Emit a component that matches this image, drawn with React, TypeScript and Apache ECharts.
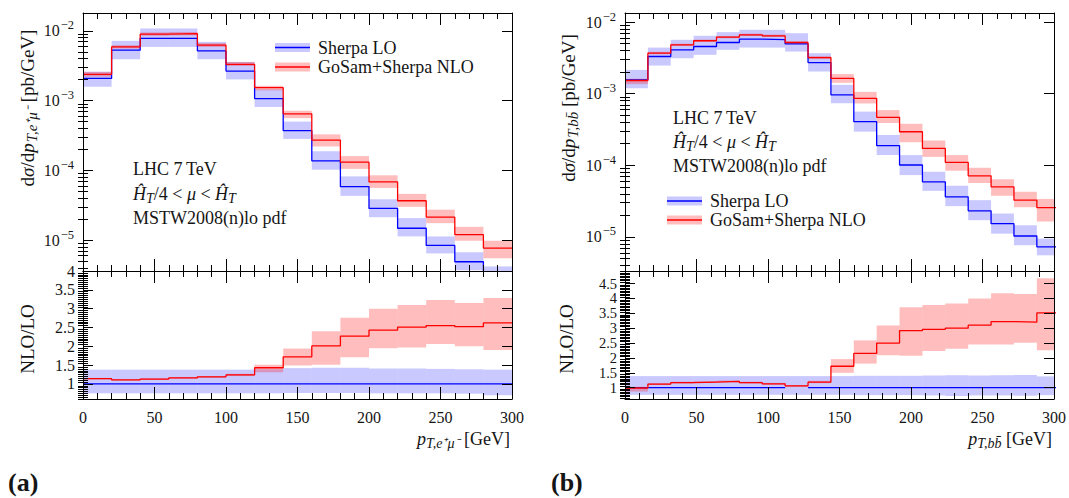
import React, { useEffect, useRef } from "react";
import * as echarts from "echarts";

/* ================= DATA: panel (a)  p_T(e+ mu-) ================= */
const edgesA = [0, 20, 40, 60, 80, 100, 120, 140, 160, 180, 200, 220, 240, 260, 280, 300];
const loA = [2.08e-3, 5.27e-3, 7.77e-3, 7.77e-3, 5.15e-3, 2.65e-3, 1.07e-3, 3.7e-4, 1.37e-4, 5.85e-5, 2.85e-5, 1.48e-5, 8.4e-6, 4.9e-6, 3.0e-6];
const loLowA = [1.58e-3, 3.91e-3, 5.88e-3, 5.88e-3, 3.91e-3, 2.01e-3, 8.1e-4, 2.82e-4, 1.02e-4, 4.3e-5, 2.13e-5, 1.13e-5, 6.45e-6, 3.7e-6, 2.3e-6];
const loHighA = [2.6e-3, 7.18e-3, 1.08e-2, 1.08e-2, 6.94e-3, 3.58e-3, 1.45e-3, 5.0e-4, 1.88e-4, 8.2e-5, 3.85e-5, 2.07e-5, 1.13e-5, 6.7e-6, 4.2e-6];
const nloA = [2.38e-3, 5.88e-3, 8.96e-3, 9.1e-3, 6.22e-3, 3.31e-3, 1.53e-3, 6.46e-4, 2.72e-4, 1.31e-4, 6.83e-5, 3.67e-5, 2.14e-5, 1.2e-5, 7.7e-6];
const nloLowA = [2.2e-3, 5.58e-3, 8.47e-3, 8.6e-3, 5.88e-3, 3.13e-3, 1.4e-3, 5.6e-4, 2.2e-4, 1.05e-4, 5.6e-5, 3.0e-5, 1.75e-5, 9.8e-6, 5.5e-6];
const nloHighA = [2.57e-3, 6.22e-3, 9.48e-3, 9.6e-3, 6.65e-3, 3.58e-3, 1.63e-3, 7.15e-4, 3.28e-4, 1.6e-4, 8.5e-5, 4.6e-5, 2.73e-5, 1.55e-5, 9.8e-6];
const ratioLoA = [1, 1, 1, 1, 1, 1, 1, 1, 1, 1, 1, 1, 1, 1, 1];
const ratioLoLowA = [0.75, 0.75, 0.75, 0.75, 0.75, 0.75, 0.75, 0.76, 0.76, 0.76, 0.75, 0.75, 0.75, 0.74, 0.7];
const ratioLoHighA = [1.38, 1.38, 1.38, 1.38, 1.38, 1.38, 1.39, 1.42, 1.43, 1.43, 1.41, 1.41, 1.4, 1.39, 1.38];
const ratioNloA = [1.14, 1.11, 1.13, 1.16, 1.19, 1.24, 1.43, 1.72, 2.01, 2.27, 2.43, 2.51, 2.55, 2.52, 2.62];
const ratioNloLowA = [1.12, 1.09, 1.11, 1.14, 1.17, 1.21, 1.31, 1.49, 1.51, 1.71, 1.95, 1.97, 2.06, 2.0, 1.9];
const ratioNloHighA = [1.16, 1.13, 1.15, 1.18, 1.21, 1.27, 1.51, 1.94, 2.4, 2.76, 3.0, 3.1, 3.23, 3.15, 3.28];

/* ================= DATA: panel (b)  p_T(b b-bar) ================= */
const edgesB = [0, 16, 32, 48, 64, 80, 96, 112, 128, 144, 160, 176, 192, 208, 224, 240, 256, 272, 288, 304];
const loB = [1.56e-3, 3.31e-3, 4.1e-3, 4.56e-3, 5.19e-3, 5.78e-3, 5.7e-3, 4.95e-3, 2.72e-3, 9.6e-4, 4.07e-4, 1.88e-4, 1.01e-4, 5.88e-5, 3.63e-5, 2.31e-5, 1.53e-5, 1.03e-5, 7.24e-6];
const loLowB = [1.19e-3, 2.47e-3, 3.13e-3, 3.49e-3, 4.1e-3, 4.41e-3, 4.4e-3, 3.88e-3, 2.04e-3, 7.35e-4, 2.95e-4, 1.39e-4, 7.3e-5, 4.4e-5, 2.69e-5, 1.71e-5, 1.11e-5, 7.64e-6, 5.53e-6];
const loHighB = [2.15e-3, 4.41e-3, 5.66e-3, 6.44e-3, 7.24e-3, 7.81e-3, 7.8e-3, 7.0e-3, 3.68e-3, 1.33e-3, 5.62e-4, 2.65e-4, 1.39e-4, 8.13e-5, 5.18e-5, 3.26e-5, 2.12e-5, 1.46e-5, 9.46e-6];
const nloB = [1.53e-3, 3.68e-3, 4.82e-3, 5.49e-3, 6.17e-3, 6.65e-3, 6.44e-3, 5.19e-3, 3.2e-3, 1.64e-3, 8.63e-4, 4.68e-4, 2.94e-4, 1.72e-4, 1.1e-4, 7.13e-5, 5.01e-5, 3.26e-5, 2.57e-5];
const nloLowB = [1.36e-3, 3.55e-3, 4.65e-3, 5.3e-3, 5.95e-3, 6.4e-3, 6.2e-3, 5.0e-3, 3.05e-3, 1.42e-3, 7.3e-4, 3.9e-4, 2.1e-4, 1.31e-4, 8.4e-5, 5.66e-5, 3.75e-5, 2.59e-5, 1.64e-5];
const nloHighB = [1.62e-3, 3.85e-3, 5.0e-3, 5.7e-3, 6.4e-3, 6.9e-3, 6.7e-3, 5.4e-3, 3.35e-3, 1.88e-3, 1.06e-3, 5.9e-4, 3.8e-4, 2.22e-4, 1.39e-4, 9.24e-5, 6.38e-5, 4.27e-5, 3.39e-5];
const ratioLoB = [1, 1, 1, 1, 1, 1, 1, null, 1, 1, 1, 1, 1, 1, 1, 1, 1, 1, 1];
const ratioLoLowB = [0.76, 0.76, 0.76, 0.76, 0.76, 0.76, 0.76, 0.76, 0.76, 0.76, 0.75, 0.75, 0.75, 0.74, 0.72, 0.74, 0.74, 0.73, 0.75];
const ratioLoHighB = [1.39, 1.39, 1.39, 1.39, 1.39, 1.39, 1.39, 1.39, 1.39, 1.39, 1.4, 1.4, 1.4, 1.41, 1.42, 1.41, 1.42, 1.43, 1.38];
const ratioNloB = [0.99, 1.12, 1.17, 1.19, 1.21, 1.17, 1.13, 1.06, 1.19, 1.72, 2.15, 2.5, 2.92, 2.96, 3.0, 3.1, 3.22, 3.2, 3.51];
const ratioNloLowB = [0.87, 1.09, 1.14, 1.16, 1.18, 1.14, 1.1, 1.03, 1.15, 1.5, 1.81, 2.09, 2.07, 2.23, 2.31, 2.45, 2.45, 2.51, 2.26];
const ratioNloHighB = [1.03, 1.15, 1.2, 1.22, 1.24, 1.2, 1.16, 1.09, 1.23, 1.96, 2.59, 3.09, 3.7, 3.78, 3.83, 4.0, 4.17, 4.15, 4.68];

/* ================= AXES ================= */
const xRange = [0, 300];
const xInterval = 50;
const logMajorTicks = [1e-5, 1e-4, 1e-3, 1e-2];
const logRangeA = [3.61e-6, 1.8e-2];
const logRangeB = [3.34e-6, 1.34e-2];
const ratioRangeA = [0.6, 4];
const ratioRangeB = [0.62, 4.92];
const ratioTicksA = [1, 1.5, 2, 2.5, 3, 3.5, 4];
const ratioTicksB = [1, 1.5, 2, 2.5, 3, 3.5, 4, 4.5];

const legendNames = ["Sherpa LO", "GoSam+Sherpa NLO"];

/* ================= STYLE ================= */
const FONT = "'Liberation Serif', 'Times New Roman', serif";
const INK = "#151515";
const BLUE = "#0000ff";
const RED = "#ff0000";
const BLUE_BAND = "rgba(0,0,255,0.21)";
const RED_BAND = "rgba(255,0,0,0.26)";

const TOP_Y = 13;
const TOP_H = 258;
const RATIO_H = 128;
const PLOT_W = 429;
const TICK_FONT = 16;

function logMinorTicks(range: number[]) {
  const out: number[] = [];
  for (let e = -7; e <= 0; e++) {
    for (let k = 2; k <= 9; k++) {
      const v = Number((k * Math.pow(10, e)).toPrecision(6));
      if (v > range[0] && v < range[1]) out.push(v);
    }
  }
  return out;
}
function ratioMinorTicks(range: number[]) {
  const out: number[] = [];
  for (let k = Math.ceil(range[0] * 20); k <= Math.floor(range[1] * 20); k++) {
    if (k % 10 !== 0) out.push(k / 20);
  }
  return out;
}

function bandItems(edges: number[], low: number[], high: number[]) {
  return low.map((l, i) => [edges[i], edges[i + 1], l, high[i]]);
}
function histLine(edges: number[], vals: (number | null)[]) {
  const d: any[] = [];
  vals.forEach((v, i) => {
    if (v === null) {
      d.push([edges[i], null]);
    } else {
      d.push([edges[i], v]);
      d.push([edges[i + 1], v]);
    }
  });
  return d;
}

function bandSeries(xi: number, yi: number, data: number[][], color: string, z: number) {
  return {
    type: "custom",
    xAxisIndex: xi,
    yAxisIndex: yi,
    data,
    z,
    silent: true,
    encode: { x: [0, 1], y: [2, 3] },
    renderItem: (params: any, api: any) => {
      const p0 = api.coord([api.value(0), api.value(3)]);
      const p1 = api.coord([api.value(1), api.value(2)]);
      const cs = params.coordSys;
      const rect = echarts.graphic.clipRectByRect(
        { x: p0[0], y: p0[1], width: p1[0] - p0[0], height: p1[1] - p0[1] },
        { x: cs.x, y: cs.y, width: cs.width, height: cs.height }
      );
      if (!rect) return null;
      return { type: "rect", shape: rect, style: { fill: color } };
    },
  };
}
function lineSeries(xi: number, yi: number, data: any[], color: string, z: number) {
  return {
    type: "line",
    xAxisIndex: xi,
    yAxisIndex: yi,
    data,
    z,
    silent: true,
    symbol: "none",
    showSymbol: false,
    connectNulls: false,
    clip: true,
    lineStyle: { color, width: 1.3 },
  };
}

const tickLine = { color: "#000", width: 1 };

function xAxisDef(g: number, pos: string, labels: boolean) {
  return {
    type: "value",
    gridIndex: g,
    position: pos,
    min: xRange[0],
    max: xRange[1],
    interval: xInterval,
    z: 10,
    axisLine: { show: true, onZero: false, lineStyle: tickLine },
    axisTick: { show: true, inside: true, length: 12, lineStyle: tickLine },
    minorTick: { show: true, splitNumber: 5, length: 6, lineStyle: tickLine },
    splitLine: { show: false },
    minorSplitLine: { show: false },
    axisLabel: { show: labels, margin: 10, fontSize: TICK_FONT, color: INK, fontFamily: FONT },
  };
}
function yLogDef(g: number, pos: string, range: number[], labels: boolean) {
  return {
    type: "log",
    logBase: 10,
    gridIndex: g,
    position: pos,
    min: range[0],
    max: range[1],
    z: 10,
    axisLine: { show: true, onZero: false, lineStyle: tickLine },
    axisTick: { show: true, inside: true, length: 10, customValues: logMajorTicks, lineStyle: tickLine },
    minorTick: { show: false },
    splitLine: { show: false },
    axisLabel: {
      show: labels,
      customValues: logMajorTicks,
      margin: 9,
      formatter: (v: number) => "{b|10}{s|\u2212" + Math.round(-Math.log10(v)) + "}",
      rich: {
        b: { fontSize: TICK_FONT, fontFamily: FONT, color: INK },
        s: { fontSize: 12.5, fontFamily: FONT, color: INK, padding: [0, 0, 11, 1] },
      },
    },
  };
}
function yLogMinorDef(g: number, pos: string, range: number[]) {
  return {
    type: "log",
    logBase: 10,
    gridIndex: g,
    position: pos,
    min: range[0],
    max: range[1],
    z: 10,
    axisLine: { show: false },
    axisTick: { show: true, inside: true, length: 5, customValues: logMinorTicks(range), lineStyle: tickLine },
    minorTick: { show: false },
    splitLine: { show: false },
    axisLabel: { show: false },
  };
}
function yRatioDef(g: number, pos: string, range: number[], ticks: number[], labels: boolean, fontSize: number) {
  return {
    type: "value",
    gridIndex: g,
    position: pos,
    min: range[0],
    max: range[1],
    z: 10,
    axisLine: { show: true, onZero: false, lineStyle: tickLine },
    axisTick: { show: true, inside: true, length: 10, customValues: ticks, lineStyle: tickLine },
    minorTick: { show: false },
    splitLine: { show: false },
    axisLabel: {
      show: labels,
      customValues: ticks,
      margin: 8,
      fontSize,
      lineHeight: fontSize - 1,
      color: INK,
      fontFamily: FONT,
      showMinLabel: true,
      showMaxLabel: true,
      hideOverlap: false,
    },
  };
}
function yRatioMinorDef(g: number, pos: string, range: number[]) {
  return {
    type: "value",
    gridIndex: g,
    position: pos,
    min: range[0],
    max: range[1],
    z: 10,
    axisLine: { show: false },
    axisTick: { show: true, inside: true, length: 5, customValues: ratioMinorTicks(range), lineStyle: tickLine },
    minorTick: { show: false },
    splitLine: { show: false },
    axisLabel: { show: false },
  };
}

const rich = {
  n: { fontFamily: FONT, fontSize: 18, fill: INK, color: INK },
  i: { fontFamily: FONT, fontSize: 18, fontStyle: "italic", fill: INK, color: INK },
  yn: { fontFamily: FONT, fontSize: 19, fill: INK, color: INK },
  yi: { fontFamily: FONT, fontSize: 19, fontStyle: "italic", fill: INK, color: INK },
  sub: { fontFamily: FONT, fontSize: 14, fontStyle: "italic", fill: INK, color: INK, padding: [9, 0, 0, 0] },
  ysub: { fontFamily: FONT, fontSize: 15, fontStyle: "italic", fill: INK, color: INK, padding: [9, 0, 0, 1] },
  ys: { fontFamily: FONT, fontSize: 14, fontStyle: "italic", fill: INK, color: INK, padding: [9, 0, 0, 0] },
};

function richText(x: number, y: number, text: string, align = "left", rotation = 0) {
  return {
    type: "text",
    x,
    y,
    rotation,
    z: 20,
    silent: true,
    style: { text, rich, align, verticalAlign: "middle", fontFamily: FONT, fontSize: 18, fill: INK },
  };
}
function plainText(x: number, y: number, text: string, size = 18, weight = "normal") {
  return {
    type: "text",
    x,
    y,
    z: 20,
    silent: true,
    style: { text, align: "left", verticalAlign: "middle", fontFamily: FONT, fontSize: size, fontWeight: weight, fill: INK },
  };
}
function legendItem(x: number, y: number, band: string, line: string, label: string) {
  return [
    { type: "rect", z: 20, silent: true, shape: { x, y: y - 4.5, width: 35, height: 9 }, style: { fill: band } },
    { type: "line", z: 21, silent: true, shape: { x1: x, y1: y, x2: x + 35, y2: y }, style: { stroke: line, lineWidth: 1.3 } },
    plainText(x + 43, y, label, 18),
  ];
}

function buildOption() {
  const grid: any[] = [];
  const xAxis: any[] = [];
  const yAxis: any[] = [];
  const series: any[] = [];

  const panels = [
    {
      left: 83, logRange: logRangeA, ratioRange: ratioRangeA, ratioTicks: ratioTicksA, ratioFont: 16, edges: edgesA,
      lo: loA, loLow: loLowA, loHigh: loHighA, nlo: nloA, nloLow: nloLowA, nloHigh: nloHighA,
      rLo: ratioLoA, rLoLow: ratioLoLowA, rLoHigh: ratioLoHighA, rNlo: ratioNloA, rNloLow: ratioNloLowA, rNloHigh: ratioNloHighA,
    },
    {
      left: 625, logRange: logRangeB, ratioRange: ratioRangeB, ratioTicks: ratioTicksB, ratioFont: 14.5, edges: edgesB,
      lo: loB, loLow: loLowB, loHigh: loHighB, nlo: nloB, nloLow: nloLowB, nloHigh: nloHighB,
      rLo: ratioLoB, rLoLow: ratioLoLowB, rLoHigh: ratioLoHighB, rNlo: ratioNloB, rNloLow: ratioNloLowB, rNloHigh: ratioNloHighB,
    },
  ];

  for (const p of panels) {
    const gTop = grid.length;
    grid.push({ left: p.left, top: TOP_Y, width: PLOT_W, height: TOP_H, containLabel: false, outerBoundsMode: "none" });
    const gRat = grid.length;
    grid.push({ left: p.left, top: TOP_Y + TOP_H, width: PLOT_W, height: RATIO_H, containLabel: false, outerBoundsMode: "none" });

    const xTop = xAxis.length;
    xAxis.push(xAxisDef(gTop, "bottom", false));
    xAxis.push(xAxisDef(gTop, "top", false));
    const xRat = xAxis.length;
    xAxis.push(xAxisDef(gRat, "bottom", true));
    xAxis.push(xAxisDef(gRat, "top", false));

    const yTop = yAxis.length;
    yAxis.push(yLogDef(gTop, "left", p.logRange, true));
    yAxis.push(yLogDef(gTop, "right", p.logRange, false));
    yAxis.push(yLogMinorDef(gTop, "left", p.logRange));
    yAxis.push(yLogMinorDef(gTop, "right", p.logRange));
    const yRat = yAxis.length;
    yAxis.push(yRatioDef(gRat, "left", p.ratioRange, p.ratioTicks, true, p.ratioFont));
    yAxis.push(yRatioDef(gRat, "right", p.ratioRange, p.ratioTicks, false, p.ratioFont));
    yAxis.push(yRatioMinorDef(gRat, "left", p.ratioRange));
    yAxis.push(yRatioMinorDef(gRat, "right", p.ratioRange));

    series.push(bandSeries(xTop, yTop, bandItems(p.edges, p.loLow, p.loHigh), BLUE_BAND, 2));
    series.push(bandSeries(xTop, yTop, bandItems(p.edges, p.nloLow, p.nloHigh), RED_BAND, 3));
    series.push(lineSeries(xTop, yTop, histLine(p.edges, p.lo), BLUE, 4));
    series.push(lineSeries(xTop, yTop, histLine(p.edges, p.nlo), RED, 5));

    series.push(bandSeries(xRat, yRat, bandItems(p.edges, p.rLoLow, p.rLoHigh), BLUE_BAND, 2));
    series.push(bandSeries(xRat, yRat, bandItems(p.edges, p.rNloLow, p.rNloHigh), RED_BAND, 3));
    series.push(lineSeries(xRat, yRat, histLine(p.edges, p.rLo), BLUE, 4));
    series.push(lineSeries(xRat, yRat, histLine(p.edges, p.rNlo), RED, 5));
  }

  const hatLine = "{n|LHC 7\u2009TeV}";
  const scaleLine = "{i|\u0124}{ys|T}{n|/4 < }{i|\u03bc}{n| < }{i|\u0124}{ys|T}";
  const pdfLine = "MSTW2008(n)lo pdf";

  const graphic: any[] = [
    // panel (a)
    richText(27, 108, "{yn|d}{yi|\u03c3}{yn|/d}{yi|p}{ysub|T,e\u207a\u03bc\u207b}{yn| [pb/GeV]}", "center", Math.PI / 2),
    richText(27, 339, "{yn|NLO/LO}", "center", Math.PI / 2),
    richText(510, 439, "{i|p}{sub|T,e\u207a\u03bc\u207b}{n| [GeV]}", "right"),
    ...legendItem(275, 47.5, BLUE_BAND, BLUE, legendNames[0]),
    ...legendItem(275, 67, RED_BAND, RED, legendNames[1]),
    richText(133, 169, hatLine),
    richText(133, 194, scaleLine),
    plainText(133, 218, pdfLine),
    plainText(8, 482, "(a)", 26, "bold"),
    // panel (b)
    richText(568, 108, "{yn|d}{yi|\u03c3}{yn|/d}{yi|p}{ysub|T,bb\u0304}{yn| [pb/GeV]}", "center", Math.PI / 2),
    richText(566, 339, "{yn|NLO/LO}", "center", Math.PI / 2),
    richText(1052, 439, "{i|p}{sub|T,bb\u0304}{n| [GeV]}", "right"),
    ...legendItem(667, 201, BLUE_BAND, BLUE, legendNames[0]),
    ...legendItem(667, 220, RED_BAND, RED, legendNames[1]),
    richText(673, 118, hatLine),
    richText(673, 142, scaleLine),
    plainText(673, 166, pdfLine),
    plainText(551, 482, "(b)", 26, "bold"),
  ];

  return {
    animation: false,
    backgroundColor: "#ffffff",
    textStyle: { fontFamily: FONT },
    grid,
    xAxis,
    yAxis,
    series,
    graphic,
  };
}

export default function App() {
  const ref = useRef<HTMLDivElement>(null);
  useEffect(() => {
    if (!ref.current) return;
    const chart = echarts.init(ref.current, null, { renderer: "svg" });
    chart.setOption(buildOption() as any);
    return () => chart.dispose();
  }, []);
  return (
    <div
      ref={ref}
      style={{ position: "absolute", left: 0, top: 0, width: 1069, height: 498, background: "#fff" }}
    />
  );
}
